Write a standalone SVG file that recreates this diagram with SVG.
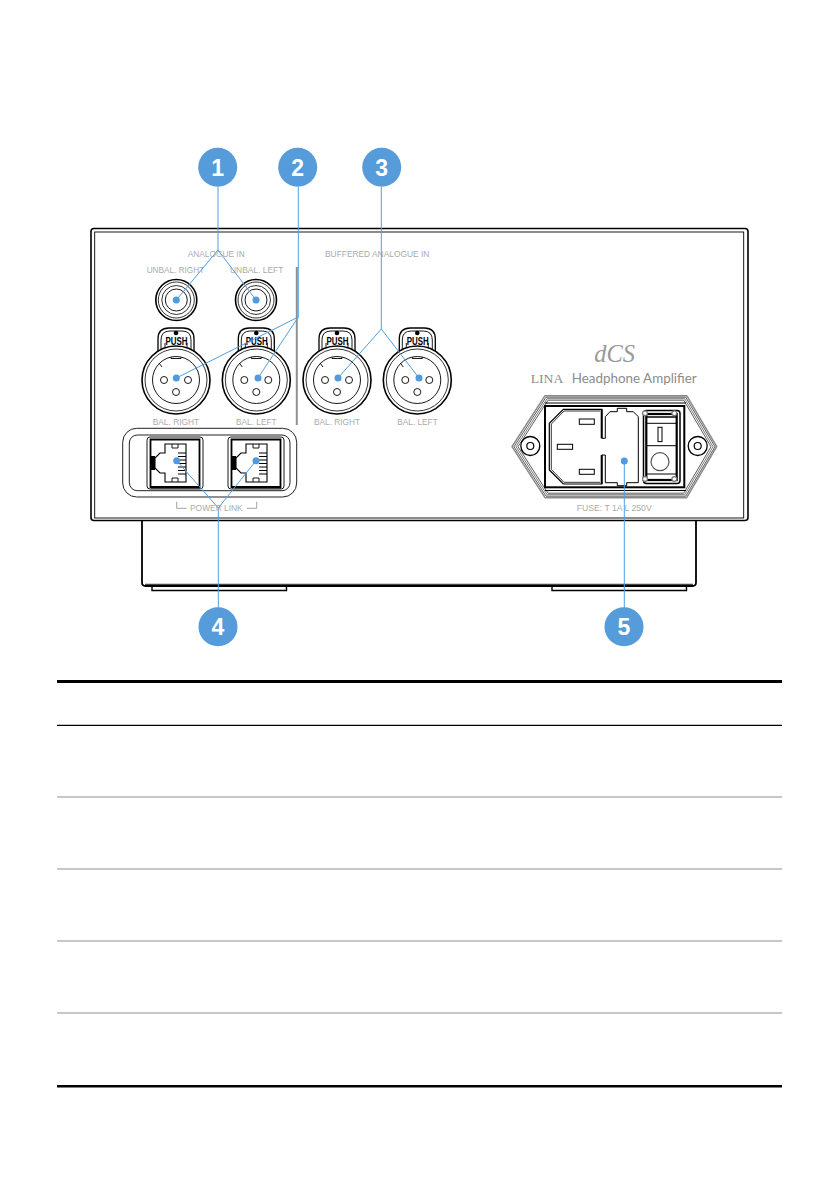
<svg xmlns="http://www.w3.org/2000/svg" width="840" height="1192" viewBox="0 0 840 1192">
<style>
.k{fill:none;stroke:#000}
.lbl{font-family:"Liberation Sans",Arial,sans-serif;font-size:8.800px;fill:#ababab}
.push{font-family:"Liberation Sans",Arial,sans-serif;font-size:10px;font-weight:bold;fill:#000}
.ln{fill:none;stroke:#4f9fe3;stroke-width:1}
.dot{fill:#4f9bdd}
.bc{fill:#569cdb}
.bt{font-family:"Liberation Sans",Arial,sans-serif;font-size:23px;font-weight:bold;fill:#fff;text-anchor:middle}
.gr{fill:none;stroke:#b5b5b5;stroke-width:1.3}
</style>
<defs>
<g id="rca">
<circle r="20.500" class="k" stroke-width="1.600"/>
<circle r="18" class="k" stroke-width=".8"/>
<circle r="14.500" class="k" stroke-width=".8"/>
<circle r="11" class="k" stroke-width=".9"/>
</g>
<g id="xlr">
<path d="M-18-26V-41Q-18-52-7-52H7Q18-52 18-41V-26" class="k" stroke-width="1.300"/>
<path d="M-15-29V-40Q-15-49-6-49H6Q15-49 15-40V-29" class="k" stroke-width=".9"/>
<path d="M-11-37V-30H11V-37" class="k" stroke-width=".9"/>
<circle cy="-47" r="2.300" fill="#000"/>
<circle r="34" fill="#fff" stroke="#000" stroke-width="1.600"/>
<circle r="31" class="k" stroke-width=".8"/>
<circle r="23.500" class="k" stroke-width=".9"/>
<path d="M-5-23V-21.500H5V-23M-17-17L-14-13" class="k" stroke-width=".9"/>
<circle cx="-12" r="3.500" class="k" stroke-width=".9"/>
<circle cx="12" r="3.500" class="k" stroke-width=".9"/>
<circle cy="12" r="3.500" class="k" stroke-width=".9"/>
</g>
<g id="rj">
<rect x="-28" y="-26" width="56" height="52" rx="3" class="k" stroke-width=".9"/>
<path d="M-24.500-23.500H24.500V24H-24.500Z" class="k" stroke-width="1.800"/>
<path d="M-24 24.300H25" class="k" stroke-width="2.500"/>
<path d="M-24.500-7H-20V7H-24.500Z" fill="#000"/>
<path d="M-20-5L-15-10H-10V-19H11V19H-10V10H-15L-20 5Z" class="k" stroke-width="1.100"/>
<path d="M-3-19V-15H3V-19M-3 19V15H3V19" class="k" stroke-width=".9"/>
<path d="M3-10H11M3-6.500H11M3-3H11M3 .5H11M3 4H11M3 7.500H11M3 11H11" class="k" stroke-width="1"/>
</g>
<g id="hole">
<circle r="9.500" class="k" stroke="#444" stroke-width="1.300"/>
<circle r="3.500" class="k" stroke="#444" stroke-width="1.200"/>
</g>
</defs>

<g id="chassis">
<path d="M142 521V582.500Q142 586 145.500 586H692.500Q696 586 696 582.500V521" class="k" stroke-width="1.800"/>
<path d="M145 584.300H693" class="k" stroke-width=".9"/>
<path d="M152 587V590.500H286.500V587M552 587V590.500H686.500V587" class="k" stroke-width="1.400"/>
<rect x="91" y="228.500" width="657" height="292" rx="3" fill="#fff" stroke="#000" stroke-width="1.600"/>
<rect x="94.700" y="232" width="649" height="286" fill="none" stroke="#000" stroke-width=".9"/>
<path d="M296.800 267V425" stroke="#8f8f8f" stroke-width="2" fill="none"/>
</g>

<g id="labels">
<text class="lbl" x="187.700" y="256.700" textLength="57" lengthAdjust="spacingAndGlyphs">ANALOGUE IN</text>
<text class="lbl" x="146.700" y="273.300" textLength="57.500" lengthAdjust="spacingAndGlyphs">UNBAL. RIGHT</text>
<text class="lbl" x="230" y="273.300" textLength="53.300" lengthAdjust="spacingAndGlyphs">UNBAL. LEFT</text>
<text class="lbl" x="325" y="256.700" textLength="104.300" lengthAdjust="spacingAndGlyphs">BUFFERED ANALOGUE IN</text>
<text class="lbl" x="152.700" y="425" textLength="46.500" lengthAdjust="spacingAndGlyphs">BAL. RIGHT</text>
<text class="lbl" x="236" y="425" textLength="40.700" lengthAdjust="spacingAndGlyphs">BAL. LEFT</text>
<text class="lbl" x="314" y="425" textLength="46" lengthAdjust="spacingAndGlyphs">BAL. RIGHT</text>
<text class="lbl" x="397.300" y="425" textLength="40.400" lengthAdjust="spacingAndGlyphs">BAL. LEFT</text>
<text class="lbl" x="190" y="510.800" textLength="52.700" lengthAdjust="spacingAndGlyphs">POWER LINK</text>
<text class="lbl" x="576.700" y="511" textLength="75" lengthAdjust="spacingAndGlyphs">FUSE: T 1A L 250V</text>
<path d="M176.700 501.700V508.300H186.700M256.700 501.700V508.300H246.700" fill="none" stroke="#a3a3a3" stroke-width="1"/>
<text x="594.300" y="361.700" font-family="'Liberation Serif','Times New Roman',serif" font-style="italic" font-size="26" fill="#999" textLength="40.700" lengthAdjust="spacingAndGlyphs">dCS</text>
<text x="530.700" y="383.300" font-family="'Liberation Serif','Times New Roman',serif" font-size="13.500" fill="#8c8c8c" textLength="32.600" lengthAdjust="spacingAndGlyphs">LINA</text>
<text x="571.700" y="383.300" font-family="Lato,'Liberation Sans',sans-serif" font-size="13" fill="#8c8c8c" textLength="125" lengthAdjust="spacingAndGlyphs">Headphone Amplifier</text>
</g>

<g id="rca-right"><use href="#rca" x="176.300" y="300"/></g>
<g id="rca-left"><use href="#rca" x="256" y="300"/></g>
<g id="xlr-in-right"><use href="#xlr" x="176" y="380"/><text class="push" x="165.500" y="345" textLength="22" lengthAdjust="spacingAndGlyphs">PUSH</text></g>
<g id="xlr-in-left"><use href="#xlr" x="256.300" y="380"/><text class="push" x="245.800" y="345" textLength="22" lengthAdjust="spacingAndGlyphs">PUSH</text></g>
<g id="xlr-buf-right"><use href="#xlr" x="337" y="380"/><text class="push" x="326.500" y="345" textLength="22" lengthAdjust="spacingAndGlyphs">PUSH</text></g>
<g id="xlr-buf-left"><use href="#xlr" x="417.300" y="380"/><text class="push" x="406.800" y="345" textLength="22" lengthAdjust="spacingAndGlyphs">PUSH</text></g>

<g id="power-link">
<rect x="122.700" y="428.300" width="174" height="68.700" rx="14" fill="none" stroke="#222" stroke-width="1"/>
<rect x="129.300" y="435" width="160.700" height="55.700" rx="8" fill="none" stroke="#222" stroke-width="1"/>
<use href="#rj" x="175" y="463"/>
<use href="#rj" x="256" y="463"/>
</g>

<g id="iec-inlet">
<polygon points="545,395.700 686.700,395.700 716.700,446.700 686.700,497.700 545,497.700 512,446.700" fill="#fff" stroke="#8a8a8a" stroke-width="1.500" stroke-linejoin="round"/>
<polygon points="546,397.200 685.700,397.200 715,446.700 685.700,496.200 546,496.200 514,446.700" fill="none" stroke="#333" stroke-width=".8" stroke-linejoin="round"/>
<polygon points="547,398.700 684.700,398.700 713,446.700 684.700,494.700 547,494.700 516,446.700" fill="none" stroke="#555" stroke-width=".8" stroke-linejoin="round"/>
<polygon points="548,400.200 683.700,400.200 711,446.700 683.700,493.200 548,493.200 518,446.700" fill="none" stroke="#333" stroke-width=".8" stroke-linejoin="round"/>
<path d="M545 403H686M545 490.500H686" class="k" stroke-width="1"/>
<use href="#hole" x="530.300" y="446"/>
<use href="#hole" x="697.700" y="446"/>
<rect x="545" y="406" width="139.300" height="81.300" fill="#fff" stroke="#000" stroke-width="2"/>
<path d="M601.700 438.300V409.300H563.300L549.300 423.300V470L563.300 484H601.700V455" class="k" stroke-width="1.200"/>
<path d="M601.700 438.300V409.300M601.700 455V484" class="k" stroke-width="2"/>
<path d="M600 411H564L551.300 424V469.500L564 482.300H600" class="k" stroke-width=".8"/>
<rect x="579.300" y="419" width="15" height="5.300" class="k" stroke-width="1"/>
<rect x="557.300" y="444.300" width="15.300" height="5" class="k" stroke-width="1"/>
<rect x="579.300" y="469.300" width="15" height="5" class="k" stroke-width="1"/>
<path d="M601.700 438.300H605.300V416.700L610 411.700H617.300V408.300H626.700V411.700H633.300L638.300 416.700V482.700H626.700V485.700H617.300V482.700H605.300V455H601.700" class="k" stroke-width="1"/>
<rect x="643.500" y="410.500" width="36.500" height="73" rx="3" class="k" stroke-width="1.500"/>
<rect x="646.300" y="414" width="30.400" height="66" class="k" stroke-width="2.200"/>
<path d="M647 417H676" class="k" stroke-width="1.500"/>
<path d="M647 423.300H676M647 445.700H676M647 474H676" class="k" stroke-width="1"/>
<rect x="658" y="427.300" width="4" height="14.300" class="k" stroke-width="1"/>
<circle cx="660" cy="461.700" r="9" fill="none" stroke="#555" stroke-width="1.200"/>
<g fill="#fff" stroke="#777" stroke-width="1.200">
<circle cx="645" cy="413.300" r="2.400"/><circle cx="674.300" cy="413.300" r="2.400"/>
<circle cx="645" cy="479" r="2.400"/><circle cx="674.300" cy="479" r="2.400"/>
</g>
</g>

<g id="table">
<rect x="57" y="680" width="725" height="3" fill="#000"/>
<path d="M57 725.300H782" stroke="#000" stroke-width="1.300"/>
<path class="gr" d="M57 797H782M57 869H782M57 941H782M57 1013H782"/>
<rect x="57" y="1085" width="725" height="2.500" fill="#000"/>
</g>

<g id="connectors">
<path class="ln" d="M218 187V250M176.300 300L218 250L256 300"/>
<path class="ln" d="M298.300 187V317M176.300 378L298.300 317L258 378"/>
<path class="ln" d="M381.300 187V329M338 378L381.300 329L419 378"/>
<path class="ln" d="M218.300 608V508M176.700 460.700L218.300 508L256 460.700"/>
<path class="ln" d="M624.300 608V461"/>
<g class="dot">
<circle cx="176.300" cy="300" r="3.500"/><circle cx="256" cy="300" r="3.500"/>
<circle cx="176.300" cy="378" r="3.500"/><circle cx="258" cy="378" r="3.500"/>
<circle cx="338" cy="378" r="3.500"/><circle cx="419" cy="378" r="3.500"/>
<circle cx="176.700" cy="460.700" r="3.500"/><circle cx="256" cy="460.700" r="3.500"/>
<circle cx="624.300" cy="461" r="3.500"/>
</g>
</g>

<g id="badge-1"><circle class="bc" cx="217.700" cy="167.300" r="19.500"/><text class="bt" x="217.700" y="175.700">1</text></g>
<g id="badge-2"><circle class="bc" cx="297.700" cy="167.300" r="19.500"/><text class="bt" x="297.700" y="175.700">2</text></g>
<g id="badge-3"><circle class="bc" cx="381.700" cy="167.300" r="19.500"/><text class="bt" x="381.700" y="175.700">3</text></g>
<g id="badge-4"><circle class="bc" cx="218" cy="626.700" r="19.500"/><text class="bt" x="218" y="635">4</text></g>
<g id="badge-5"><circle class="bc" cx="624" cy="626.700" r="19.500"/><text class="bt" x="624" y="635">5</text></g>
</svg>
